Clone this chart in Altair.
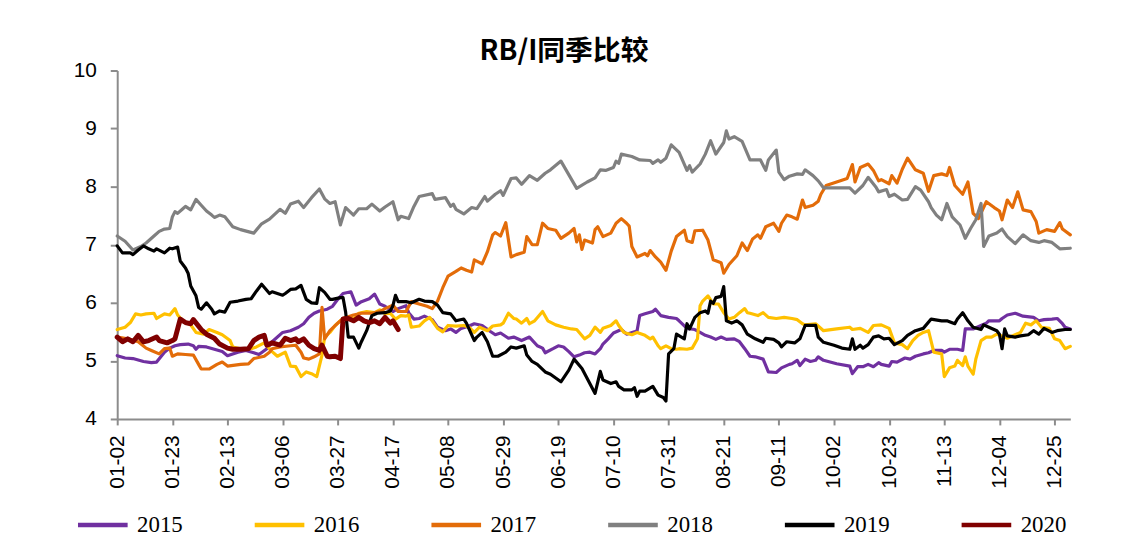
import json
import altair as alt
import pandas as pd

title_text = "RB/I同季比较"
years = ["2015", "2016", "2017", "2018", "2019", "2020"]
colors = ["#7030A0", "#FFC000", "#E36C09", "#808080", "#000000", "#800000"]
tick_labels = ["01-02", "01-23", "02-13", "03-06", "03-27", "04-17", "05-08", "05-29", "06-19",
               "07-10", "07-31", "08-21", "09-11", "10-02", "10-23", "11-13", "12-04", "12-25"]
axis_start = "01-02"
axis_end = "12-31"
y_ticks = [4, 5, 6, 7, 8, 9, 10]

# day offsets counted from 01-02, and RB/I ratio values
days_2015 = [0, 3, 6, 10, 13, 15, 18, 20, 22, 24, 27, 29, 30, 31, 34, 37, 40, 42, 46, 49, 52, 54, 57,
             59, 63, 66, 69, 71, 73, 75, 77, 80, 82, 84, 86, 89, 91, 93, 96, 98, 100, 102, 104, 105, 107,
             110, 111, 113, 115, 117, 120, 122, 125, 127, 129, 131, 134, 136, 139, 142, 144, 146, 149,
             151, 154, 157, 160, 162, 163, 166, 168, 170, 172, 174, 176, 178, 180, 182, 184, 185, 187,
             189, 192, 194, 197, 198, 199, 201, 204, 205, 207, 210, 213, 214, 217, 220, 222, 224, 226,
             228, 230, 232, 235, 237, 239, 241, 243, 246, 248, 251, 253, 256, 257, 259, 260, 262, 264,
             266, 267, 269, 274, 279, 280, 282, 284, 286, 288, 290, 291, 294, 295, 297, 300, 302, 304,
             307, 309, 311, 314, 315, 317, 320, 322, 323, 326, 329, 331, 332, 336, 337, 339, 342, 345,
             349, 351, 353, 356, 358, 360, 361, 363]
vals_2015 = [5.09, 5.05, 5.04, 4.99, 4.97, 4.98, 5.15, 5.22, 5.26, 5.28, 5.29, 5.26, 5.20, 5.25, 5.24,
             5.20, 5.16, 5.09, 5.15, 5.18, 5.14, 5.11, 5.21,
             5.33, 5.49, 5.52, 5.58, 5.64, 5.75, 5.82, 5.86, 5.89, 5.94, 6.06, 6.16, 6.19, 5.96, 6.02,
             6.07, 6.15, 5.98, 5.94, 5.88, 5.85, 5.90, 5.95, 5.83, 5.72, 5.73, 5.77, 5.71, 5.58, 5.52,
             5.55, 5.49, 5.56, 5.60, 5.64, 5.61, 5.51, 5.45, 5.48, 5.39, 5.41, 5.35, 5.41, 5.26, 5.22,
             5.14, 5.21, 5.26, 5.24, 5.16, 5.07, 5.10, 5.14, 5.15, 5.12, 5.21, 5.29, 5.38, 5.48, 5.54,
             5.46, 5.50, 5.52, 5.78, 5.81, 5.85, 5.89, 5.78, 5.75, 5.73, 5.69, 5.56, 5.54, 5.49, 5.44,
             5.41, 5.37, 5.41, 5.37, 5.38, 5.33, 5.21, 5.08, 5.07, 5.03, 4.81, 4.80, 4.88, 4.94, 4.95,
             5.01, 4.92, 5.03, 4.99, 5.01, 5.07, 5.01, 4.95, 4.91, 4.78, 4.90, 4.90, 4.94, 4.90, 4.97,
             4.94, 4.91, 4.99, 4.98, 5.05, 5.03, 5.08, 5.12, 5.14, 5.18, 5.18, 5.15, 5.20, 5.20, 5.18,
             5.55, 5.55, 5.61, 5.65, 5.69, 5.69, 5.73, 5.79, 5.82, 5.77, 5.75, 5.69, 5.71, 5.72, 5.73,
             5.64, 5.58, 5.55]

days_2016 = [0, 3, 5, 7, 9, 11, 14, 15, 18, 20, 22, 23, 25, 28, 30, 33, 35, 38, 40, 43, 44, 47, 51, 53,
             56, 58, 59, 61, 64, 66, 68, 70, 72, 74, 76, 78, 79, 81, 83, 85, 87, 90, 92, 95, 98, 100,
             102, 104, 106, 108, 110, 111, 112, 115, 117, 119, 122, 124, 126, 129, 132, 134, 136, 138,
             141, 143, 146, 147, 149, 151, 152, 154, 156, 157, 159, 162, 164, 167, 170, 173, 175, 178,
             180, 182, 184, 185, 188, 190, 191, 193, 196, 198, 201, 203, 204, 206, 207, 209, 211, 213,
             214, 217, 219, 221, 222, 223, 225, 227, 229, 231, 233, 235, 237, 239, 240, 241, 244, 246,
             248, 251, 254, 257, 259, 261, 262, 266, 269, 274, 279, 280, 283, 286, 288, 291, 294, 296,
             299, 301, 303, 305, 307, 309, 311, 314, 315, 317, 319, 320, 322, 323, 324, 326, 327, 329,
             331, 333, 335, 337, 339, 342, 344, 346, 348, 350, 352, 355, 357, 359, 361, 363]
vals_2016 = [5.54, 5.58, 5.66, 5.81, 5.79, 5.81, 5.82, 5.73, 5.81, 5.79, 5.90, 5.79, 5.69, 5.62, 5.49,
             5.46, 5.54, 5.49, 5.45, 5.35, 5.24, 5.21, 5.21, 5.24, 5.31, 5.21, 5.16, 5.08, 5.15, 4.91,
             4.90, 4.73, 4.81, 4.78, 4.73, 5.10, 5.41, 5.49, 5.61, 5.69, 5.75, 5.72, 5.82, 5.85, 5.83,
             5.88, 5.81, 5.82, 5.72, 5.78, 5.77, 5.79, 5.58, 5.60, 5.69, 5.75, 5.56, 5.50, 5.61, 5.60,
             5.61, 5.58, 5.49, 5.58, 5.52, 5.60, 5.62, 5.65, 5.82, 5.73, 5.72, 5.65, 5.73, 5.64, 5.69,
             5.85, 5.69, 5.62, 5.58, 5.55, 5.54, 5.38, 5.44, 5.58, 5.49, 5.56, 5.61, 5.69, 5.61, 5.49,
             5.45, 5.49, 5.44, 5.38, 5.41, 5.26, 5.21, 5.26, 5.21, 5.20, 5.21, 5.20, 5.22, 5.38, 5.95,
             6.03, 6.12, 5.98, 5.98, 5.83, 5.72, 5.75, 5.83, 5.90, 5.83, 5.82, 5.78, 5.83, 5.75, 5.73,
             5.75, 5.73, 5.71, 5.64, 5.62, 5.64, 5.52, 5.55, 5.58, 5.54, 5.56, 5.49, 5.61, 5.62, 5.56,
             5.31, 5.28, 5.21, 5.35, 5.44, 5.49, 5.52, 5.15, 5.12, 4.73, 4.88, 4.91, 5.01, 4.92, 5.07,
             4.91, 4.77, 5.03, 5.35, 5.41, 5.41, 5.46, 5.43, 5.39, 5.45, 5.49, 5.65, 5.62, 5.69, 5.58,
             5.56, 5.38, 5.35, 5.21, 5.25]

days_2017 = [0, 4, 8, 11, 13, 16, 18, 20, 21, 23, 26, 29, 31, 32, 35, 38, 40, 42, 47, 50, 52, 56, 58,
             59, 62, 66, 68, 70, 71, 73, 75, 77, 78, 79, 81, 84, 86, 90, 93, 97, 100, 102, 105, 107,
             110, 112, 115, 118, 120, 122, 124, 126, 129, 131, 133, 135, 136, 139, 141, 143, 144, 146,
             148, 150, 152, 155, 156, 158, 160, 162, 164, 167, 169, 172, 174, 175, 176, 177, 178, 181,
             182, 183, 185, 188, 190, 192, 194, 195, 196, 198, 201, 202, 203, 205, 207, 209, 211, 213,
             216, 217, 219, 220, 223, 225, 227, 230, 231, 233, 236, 238, 240, 242, 244, 245, 247, 250,
             252, 253, 255, 257, 259, 261, 262, 265, 267, 268, 270, 274, 278, 280, 281, 283, 286, 288,
             290, 291, 294, 295, 297, 299, 301, 304, 307, 309, 311, 314, 316, 317, 319, 322, 324, 326,
             328, 331, 334, 336, 337, 339, 341, 343, 345, 348, 350, 351, 354, 357, 359, 360, 363]
vals_2017 = [5.41, 5.38, 5.33, 5.22, 5.18, 5.12, 5.21, 5.22, 5.08, 5.12, 5.11, 5.10, 4.94, 4.86, 4.86,
             4.94, 4.98, 4.91, 4.94, 4.95, 5.04, 5.08, 5.15,
             5.21, 5.24, 5.26, 5.27, 5.15, 5.05, 5.03, 5.07, 5.12, 5.92, 5.38, 5.52, 5.65, 5.73, 5.79,
             5.82, 5.82, 5.85, 5.90, 5.96, 5.85, 5.85, 6.02, 5.98, 5.94, 5.90, 6.03, 6.26, 6.46, 6.54,
             6.60, 6.56, 6.53, 6.74, 6.67, 6.88, 7.17, 7.21, 7.15, 7.38, 6.79, 6.83, 6.87, 7.14, 7.00,
             7.00, 7.37, 7.28, 7.25, 7.11, 7.20, 7.28, 7.05, 7.17, 6.92, 7.08, 7.03,
             7.26, 7.31, 7.14, 7.20, 7.37, 7.45, 7.37, 7.32, 6.97, 6.79, 6.85, 6.81, 6.90, 6.79, 6.70,
             6.56, 6.89, 7.14, 7.25, 7.07, 7.04, 7.24, 7.25, 7.08, 6.74, 6.69, 6.51, 6.66, 6.81, 7.03,
             6.90, 7.10, 7.17, 7.11, 7.31, 7.37, 7.23, 7.37, 7.51, 7.48, 7.44, 7.77, 7.64, 7.68, 7.75,
             7.87, 8.02, 8.08, 8.14, 8.38, 8.08, 8.33, 8.39, 8.28, 8.10, 8.12, 8.05, 8.19, 8.06, 8.30,
             8.49, 8.29, 8.23, 7.92, 8.19, 8.22, 8.19, 8.33, 8.02, 7.87, 8.08, 7.54, 7.45, 7.74, 7.64,
             7.58, 7.43, 7.77, 7.64, 7.91, 7.60, 7.57, 7.40, 7.20, 7.26, 7.23, 7.38, 7.27, 7.17]

days_2018 = [0, 3, 6, 9, 11, 14, 16, 18, 20, 21, 22, 23, 25, 26, 28, 30, 32, 34, 36, 37, 39, 41, 44,
             47, 52, 55, 58, 62, 64, 66, 69, 71, 74, 77, 79, 81, 83, 85, 87, 90, 92, 95, 97, 100, 102,
             105, 107, 108, 111, 113, 115, 120, 121, 125, 127, 128, 129, 132, 135, 137, 140, 141, 144,
             146, 147, 150, 152, 154, 157, 160, 163, 165, 169, 175, 179, 182, 184, 186, 189, 190, 191,
             192, 196, 199, 203, 204, 206, 207, 209, 211, 214, 217, 218, 219, 222, 224, 226, 228, 231,
             232, 233, 235, 238, 241, 245, 247, 248, 251, 252, 254, 256, 259, 261, 262, 265, 267, 269,
             279, 281, 284, 286, 289, 290, 293, 294, 296, 299, 301, 304, 306, 309, 310, 312, 314, 316,
             318, 321, 323, 325, 327, 329, 330, 332, 335, 337, 339, 342, 345, 348, 351, 353, 356, 359,
             363]
vals_2018 = [7.15, 7.06, 6.91, 6.97, 7.03, 7.15, 7.23, 7.27, 7.28, 7.48, 7.57, 7.54, 7.62, 7.66, 7.60,
             7.78, 7.68, 7.58, 7.51, 7.47, 7.51, 7.48, 7.31, 7.26, 7.20, 7.36, 7.44, 7.61, 7.54, 7.70,
             7.75, 7.64, 7.81, 7.96, 7.79, 7.71, 7.74, 7.34, 7.64, 7.51, 7.62, 7.62, 7.70, 7.58, 7.65,
             7.74, 7.43, 7.49, 7.45, 7.66, 7.83, 7.88, 7.78, 7.81, 7.66, 7.70, 7.61, 7.53, 7.64, 7.62,
             7.83, 7.75, 7.87, 7.93, 7.85, 8.14, 8.15, 8.04, 8.19, 8.11, 8.23, 8.29, 8.44, 7.97, 8.08,
             8.15, 8.29, 8.28, 8.33, 8.44, 8.40, 8.56, 8.52, 8.46, 8.45, 8.40, 8.46, 8.42, 8.49, 8.72,
             8.59, 8.28, 8.36, 8.25, 8.39, 8.56, 8.79, 8.56, 8.76, 8.96, 8.82, 8.86, 8.78, 8.46, 8.46,
             8.28, 8.46, 8.63, 8.25, 8.12, 8.18, 8.22, 8.21, 8.29, 8.19, 8.10, 7.98, 7.98, 7.89, 8.02,
             8.16, 7.99, 7.91, 7.95, 7.83, 7.87, 7.77, 7.78, 8.00, 7.94, 7.74, 7.64, 7.51, 7.43, 7.71,
             7.48, 7.34, 7.11, 7.28, 7.43, 7.71, 6.97, 7.15, 7.20, 7.27, 7.14, 7.02, 7.17, 7.07, 7.04,
             7.07, 7.04, 6.93, 6.94]

days_2019 = [0, 2, 5, 6, 8, 10, 12, 14, 15, 18, 20, 21, 23, 24, 26, 27, 28, 30, 31, 32, 34, 36, 37,
             39, 41, 43, 46, 49, 51, 53, 55, 58, 59, 63, 64, 66, 68, 70, 72, 74, 76, 77, 79, 81, 82, 85,
             86, 87, 88, 90, 92, 93, 95, 97, 99, 102, 104, 105, 106, 107, 110, 112, 115, 117, 120, 122,
             124, 127, 129, 132, 133, 136, 137, 139, 141, 143, 145, 148, 150, 152, 155, 156, 158, 160,
             163, 165, 169, 172, 174, 177, 180, 182, 184, 185, 188, 190, 191, 193, 196, 197, 198, 199,
             201, 204, 206, 208, 209, 210, 212, 213, 216, 217, 218, 220, 222, 224, 225, 226, 227, 228,
             230, 231, 232, 234, 236, 238, 240, 243, 246, 247, 250, 252, 253, 255, 258, 260, 262, 266,
             267, 269, 273, 276, 279, 280, 281, 283, 284, 286, 288, 290, 292, 294, 296, 299, 301, 304,
             307, 310, 314, 316, 319, 320, 322, 324, 326, 329, 330, 332, 335, 336, 337, 338, 339, 342,
             344, 347, 349, 351, 353, 356, 358, 361, 363]
vals_2019 = [6.98, 6.86, 6.86, 6.83, 6.91, 6.98, 6.93, 6.89, 6.93, 6.86, 6.94, 6.93, 6.96, 6.72, 6.60,
             6.51, 6.29, 6.12, 5.92, 5.89, 6.00, 5.89, 5.81, 5.86, 5.84, 6.01, 6.03, 6.06, 6.07, 6.20,
             6.32, 6.16, 6.19, 6.13, 6.16, 6.23, 6.24, 6.30, 6.06, 6.00, 5.99, 6.26, 6.18, 6.06, 6.06,
             6.09, 6.09, 5.84, 5.41, 5.41, 5.22, 5.33, 5.52, 5.78, 5.82, 5.83, 5.86, 5.95, 6.13, 6.02,
             6.02, 6.00, 6.06, 6.03, 6.02, 5.96, 5.83, 5.81, 5.69, 5.72, 5.65, 5.35, 5.41, 5.49, 5.33,
             5.08, 5.08, 5.15, 5.24, 5.22, 5.26, 5.10, 4.99, 4.94, 4.81, 4.77, 4.64, 4.84, 5.03, 4.87,
             4.61, 4.44, 4.82, 4.67, 4.61, 4.64, 4.56, 4.50, 4.50, 4.54, 4.39, 4.48, 4.48, 4.56, 4.41,
             4.37, 4.31, 5.12, 5.21, 5.46, 5.38, 5.64, 5.55, 5.75, 5.83, 5.86, 5.82, 6.03, 5.99, 6.09,
             6.11, 6.28, 5.69, 5.65, 5.69, 5.62, 5.46, 5.38, 5.32, 5.39, 5.37, 5.31, 5.24, 5.33, 5.31,
             5.38, 5.61, 5.61, 5.41, 5.32, 5.27, 5.22, 5.20, 5.38, 5.20, 5.27, 5.22, 5.28, 5.41, 5.43,
             5.38, 5.39, 5.28, 5.35, 5.44, 5.52, 5.56, 5.72, 5.69, 5.69, 5.64, 5.72, 5.83, 5.69, 5.58,
             5.54, 5.62, 5.58, 5.52, 5.46, 5.21, 5.55, 5.43, 5.41, 5.43, 5.45, 5.52, 5.46, 5.56, 5.49,
             5.52, 5.54, 5.54]

days_2020 = [0, 2, 4, 6, 8, 10, 12, 15, 16, 19, 21, 22, 24, 26, 28, 29, 32, 34, 37, 39, 42, 44, 47, 50,
             52, 54, 56, 57, 59, 62, 64, 66, 68, 69, 71, 73, 75, 77, 78, 80, 81, 83, 85, 86, 88, 90, 92,
             94, 96, 98, 100, 102, 104, 105, 107]
vals_2020 = [5.41, 5.33, 5.38, 5.33, 5.44, 5.33, 5.35, 5.41, 5.35, 5.31, 5.35, 5.38, 5.72, 5.66, 5.64,
             5.71, 5.54, 5.46, 5.39, 5.29, 5.22, 5.20, 5.20, 5.21, 5.35, 5.41, 5.44, 5.27, 5.31, 5.27,
             5.39, 5.35, 5.38, 5.33, 5.38, 5.27, 5.21, 5.18, 5.27, 5.08, 5.07, 5.08, 5.04, 5.72, 5.73,
             5.69, 5.75, 5.69, 5.66, 5.69, 5.64, 5.75, 5.65, 5.69, 5.54]

series = {
    "2015": (days_2015, vals_2015),
    "2016": (days_2016, vals_2016),
    "2017": (days_2017, vals_2017),
    "2018": (days_2018, vals_2018),
    "2019": (days_2019, vals_2019),
    "2020": (days_2020, vals_2020),
}

rows = []
for order, yr in enumerate(years):
    d, v = series[yr]
    for i, (dd, vv) in enumerate(zip(d, v)):
        rows.append({"year": yr, "day": dd, "value": vv, "ord": order * 1000 + i})
df = pd.DataFrame(rows)

base_date = pd.Timestamp("2019-" + axis_start)
tick_days = [int((pd.Timestamp("2019-" + t) - base_date).days) for t in tick_labels]
end_day = int((pd.Timestamp("2019-" + axis_end) - base_date).days)
label_expr = f"{json.dumps(tick_labels)}[indexof({json.dumps(tick_days)}, datum.value)]"

axis_gray = "#8c8c8c"

x_enc = alt.X("day:Q",
              scale=alt.Scale(domain=[0, end_day], nice=False, zero=False),
              axis=alt.Axis(values=tick_days, labelExpr=label_expr, title=None, labelAngle=270,
                            labelFont="Liberation Sans", labelFontSize=21, labelColor="#000000",
                            labelPadding=10, tickSize=6, tickColor=axis_gray, tickWidth=2,
                            domainColor=axis_gray, domainWidth=2, grid=False, labelOverlap=False))
y_enc = alt.Y("value:Q",
              scale=alt.Scale(domain=[4, 10], nice=False, zero=False),
              axis=alt.Axis(values=y_ticks, title=None, labelFont="Liberation Sans", labelFontSize=21,
                            labelColor="#000000", labelPadding=14, tickSize=7, tickColor=axis_gray,
                            tickWidth=2, domainColor=axis_gray, domainWidth=2, grid=False))
color_enc = alt.Color("year:N", scale=alt.Scale(domain=years, range=colors),
                      legend=alt.Legend(orient="none", legendX=-42, legendY=430, direction="horizontal",
                                        columns=6, title=None, symbolType="stroke", symbolSize=2500,
                                        symbolStrokeWidth=4.5, labelFont="Liberation Serif",
                                        labelFontSize=23, labelColor="#000000", labelOffset=7,
                                        columnPadding=63, labelLimit=200))

base = alt.Chart(df)
older = base.transform_filter(alt.datum.year != years[-1]).mark_line(
    strokeJoin="round", strokeCap="round", strokeWidth=3.2
).encode(x=x_enc, y=y_enc, color=color_enc, order=alt.Order("ord:Q"))
latest = base.transform_filter(alt.datum.year == years[-1]).mark_line(
    strokeJoin="round", strokeCap="round", strokeWidth=5
).encode(x=x_enc, y=y_enc, color=color_enc, order=alt.Order("ord:Q"))

chart = alt.layer(older, latest).properties(
    width=960,
    height=351,
    title=alt.TitleParams(title_text, font="Noto Sans CJK SC", fontWeight="bold", fontSize=28,
                          color="#000000", anchor="middle", dx=-30, offset=-6),
    autosize=alt.AutoSizeParams(type="none"),
    padding={"left": 110, "top": 61, "right": 44, "bottom": 125},
    background="#ffffff",
).configure_view(stroke=None)

chart.save("out.html", embed_options={"renderer": "svg", "actions": False})
